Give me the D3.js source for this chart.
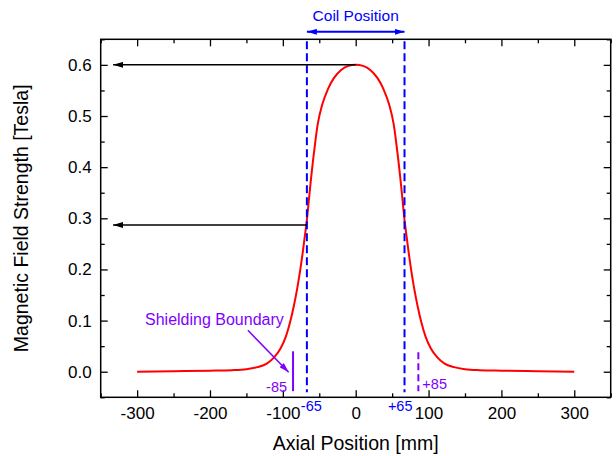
<!DOCTYPE html>
<html>
<head>
<meta charset="utf-8">
<script src="https://cdn.jsdelivr.net/npm/d3@7"></script>
<style>
  body { margin: 0; background: #fff; }
  text { font-family: "Liberation Sans", Arial, sans-serif; }
</style>
</head>
<body>
<svg width="616" height="456"></svg>
<script>
// Field profile (mm, Tesla)
var axialPos = [-300, -250, -200, -170, -150, -135, -122, -112, -103, -96, -90, -85, -80, -76, -73, -70, -67, -64, -61, -58, -55, -52, -46, -38, -30, -20, -10, 0,
                10, 20, 30, 38, 46, 52, 55, 58, 61, 64, 67, 70, 73, 76, 80, 85, 90, 96, 103, 112, 122, 135, 150, 170, 200, 250, 300];
var fieldStrength = [0.000, 0.001, 0.002, 0.003, 0.005, 0.009, 0.016, 0.028, 0.046, 0.068, 0.097, 0.128, 0.165, 0.200, 0.230, 0.263, 0.297, 0.340, 0.382, 0.420, 0.455, 0.485, 0.522, 0.553, 0.574, 0.590, 0.598, 0.600,
                     0.598, 0.590, 0.574, 0.553, 0.522, 0.485, 0.455, 0.420, 0.382, 0.340, 0.297, 0.263, 0.230, 0.200, 0.165, 0.128, 0.097, 0.068, 0.046, 0.028, 0.016, 0.009, 0.005, 0.003, 0.002, 0.001, 0.000];

var xTicks = [-300, -200, -100, 0, 100, 200, 300];
var xTickLabels = ["-300", "-200", "-100", "0", "100", "200", "300"];
var xMinorTicks = [-350, -250, -150, -50, 50, 150, 250, 350];
var yTicks = [0.0, 0.1, 0.2, 0.3, 0.4, 0.5, 0.6];
var yMinorTicks = [-0.05, 0.05, 0.15, 0.25, 0.35, 0.45, 0.55, 0.65];

// annotations
var coilEdges = [-67, 67];
var coilLabels = ["-65", "+65"];
var shieldEdges = [-86, 86];
var shieldLabels = ["-85", "+85"];
var peakField = 0.6;
var edgeField = 0.287;
var arrowTipX = -333;

var svg = d3.select("svg"),
    margin = {top: 39.3, right: 5.3, bottom: 58.7, left: 100.7},
    width = +svg.attr("width") - margin.left - margin.right,
    height = +svg.attr("height") - margin.top - margin.bottom;

var x = d3.scaleLinear().domain([-350, 350]).range([0, width]);
var y = d3.scaleLinear().domain([-0.05, 0.65]).range([height, 0]);

var defs = svg.append("defs");
function marker(id, color) {
  defs.append("marker")
      .attr("id", id)
      .attr("viewBox", "0 0 10 6")
      .attr("refX", 10).attr("refY", 3)
      .attr("markerWidth", 10).attr("markerHeight", 6)
      .attr("markerUnits", "userSpaceOnUse")
      .attr("orient", "auto-start-reverse")
    .append("path")
      .attr("d", "M0,0L10,3L0,6Z")
      .attr("fill", color);
}
marker("headBlack", "#000");
marker("headBlue", "#0000ff");
marker("headPurple", "#8000ff");

var g = svg.append("g").attr("transform", "translate(" + margin.left + "," + margin.top + ")");

// axes, ticks pointing inwards
function styleAxis(sel) {
  sel.selectAll("path").remove();
  sel.selectAll("line").attr("stroke", "#000").attr("stroke-width", 1.3);
  sel.selectAll("text").attr("font-size", 17).attr("fill", "#000");
}

g.append("g").attr("transform", "translate(0," + height + ")")
  .call(d3.axisBottom(x).tickValues(xTicks).tickSizeInner(-7).tickSizeOuter(0).tickPadding(10)
          .tickFormat(function(d, i) { return xTickLabels[i]; }))
  .call(styleAxis);
g.append("g").attr("transform", "translate(0," + height + ")")
  .call(d3.axisBottom(x).tickValues(xMinorTicks).tickSizeInner(-4).tickSizeOuter(0).tickFormat(""))
  .call(styleAxis);
g.append("g")
  .call(d3.axisTop(x).tickValues(xTicks).tickSizeInner(-7).tickSizeOuter(0).tickFormat(""))
  .call(styleAxis);
g.append("g")
  .call(d3.axisTop(x).tickValues(xMinorTicks).tickSizeInner(-4).tickSizeOuter(0).tickFormat(""))
  .call(styleAxis);

g.append("g")
  .call(d3.axisLeft(y).tickValues(yTicks).tickSizeInner(-7).tickSizeOuter(0).tickPadding(9).tickFormat(d3.format(".1f")))
  .call(styleAxis);
g.append("g")
  .call(d3.axisLeft(y).tickValues(yMinorTicks).tickSizeInner(-4).tickSizeOuter(0).tickFormat(""))
  .call(styleAxis);
g.append("g").attr("transform", "translate(" + width + ",0)")
  .call(d3.axisRight(y).tickValues(yTicks).tickSizeInner(-7).tickSizeOuter(0).tickFormat(""))
  .call(styleAxis);
g.append("g").attr("transform", "translate(" + width + ",0)")
  .call(d3.axisRight(y).tickValues(yMinorTicks).tickSizeInner(-4).tickSizeOuter(0).tickFormat(""))
  .call(styleAxis);

// frame
g.append("rect")
  .attr("width", width).attr("height", height)
  .attr("fill", "none").attr("stroke", "#000").attr("stroke-width", 1.5);

// axis titles
svg.append("text")
  .attr("x", margin.left + x(0)).attr("y", 450)
  .attr("text-anchor", "middle").attr("font-size", 19.5)
  .text("Axial Position [mm]");
svg.append("text")
  .attr("transform", "translate(28," + (margin.top + y(0.3)) + ") rotate(-90)")
  .attr("text-anchor", "middle").attr("font-size", 19.5)
  .text("Magnetic Field Strength [Tesla]");

// field curve
var pts = axialPos.map(function(d, i) { return [d, fieldStrength[i]]; });
g.append("path")
  .datum(pts)
  .attr("fill", "none").attr("stroke", "#ff0000").attr("stroke-width", 2)
  .attr("d", d3.line().x(function(d) { return x(d[0]); }).y(function(d) { return y(d[1]); }).curve(d3.curveMonotoneX));

// coil edge dashed lines
g.selectAll(".coil")
  .data(coilEdges)
  .enter().append("line")
    .attr("x1", function(d) { return x(d); }).attr("x2", function(d) { return x(d); })
    .attr("y1", 2).attr("y2", y(-0.04))
    .attr("stroke", "#0000ff").attr("stroke-width", 2)
    .attr("stroke-dasharray", "8,4");

g.selectAll(".coilLabel")
  .data(coilEdges)
  .enter().append("text")
    .attr("x", function(d, i) { return x(d) + (i === 0 ? -6 : 8); })
    .attr("y", y(-0.0765))
    .attr("text-anchor", function(d, i) { return i === 0 ? "start" : "end"; })
    .attr("font-size", 14.5).attr("fill", "#0000ff")
    .text(function(d, i) { return coilLabels[i]; });

// shielding boundary markers
g.append("line")
  .attr("x1", x(shieldEdges[0])).attr("x2", x(shieldEdges[0]))
  .attr("y1", y(0.04)).attr("y2", y(-0.038))
  .attr("stroke", "#8000ff").attr("stroke-width", 2);
g.append("line")
  .attr("x1", x(shieldEdges[1])).attr("x2", x(shieldEdges[1]))
  .attr("y1", y(0.038)).attr("y2", y(-0.038))
  .attr("stroke", "#8000ff").attr("stroke-width", 2)
  .attr("stroke-dasharray", "7,4");

g.selectAll(".shieldLabel")
  .data(shieldEdges)
  .enter().append("text")
    .attr("x", function(d, i) { return x(d) + (i === 0 ? -6 : 4); })
    .attr("y", function(d, i) { return i === 0 ? y(-0.0395) : y(-0.0345); })
    .attr("text-anchor", function(d, i) { return i === 0 ? "end" : "start"; })
    .attr("font-size", 14.5).attr("fill", "#8000ff")
    .text(function(d, i) { return shieldLabels[i]; });

svg.append("text")
  .attr("x", 145).attr("y", 325)
  .attr("font-size", 16).attr("fill", "#8000ff")
  .text("Shielding Boundary");
g.append("line")
  .attr("x1", x(-148)).attr("y1", y(0.081))
  .attr("x2", x(-92)).attr("y2", y(-0.001))
  .attr("stroke", "#8000ff").attr("stroke-width", 1.5)
  .attr("marker-end", "url(#headPurple)");

// field level arrows
g.append("line")
  .attr("x1", x(0)).attr("y1", y(peakField))
  .attr("x2", x(arrowTipX)).attr("y2", y(peakField))
  .attr("stroke", "#000").attr("stroke-width", 1.5)
  .attr("marker-end", "url(#headBlack)");
g.append("line")
  .attr("x1", x(coilEdges[0])).attr("y1", y(edgeField))
  .attr("x2", x(arrowTipX)).attr("y2", y(edgeField))
  .attr("stroke", "#000").attr("stroke-width", 1.5)
  .attr("marker-end", "url(#headBlack)");

// coil position double arrow
g.append("line")
  .attr("x1", x(coilEdges[0])).attr("x2", x(coilEdges[1]))
  .attr("y1", -7.5).attr("y2", -7.5)
  .attr("stroke", "#0000ff").attr("stroke-width", 2)
  .attr("marker-start", "url(#headBlue)")
  .attr("marker-end", "url(#headBlue)");
svg.append("text")
  .attr("x", margin.left + x(0)).attr("y", 21)
  .attr("text-anchor", "middle").attr("font-size", 15.5).attr("fill", "#0000ff")
  .text("Coil Position");
</script>
</body>
</html>
